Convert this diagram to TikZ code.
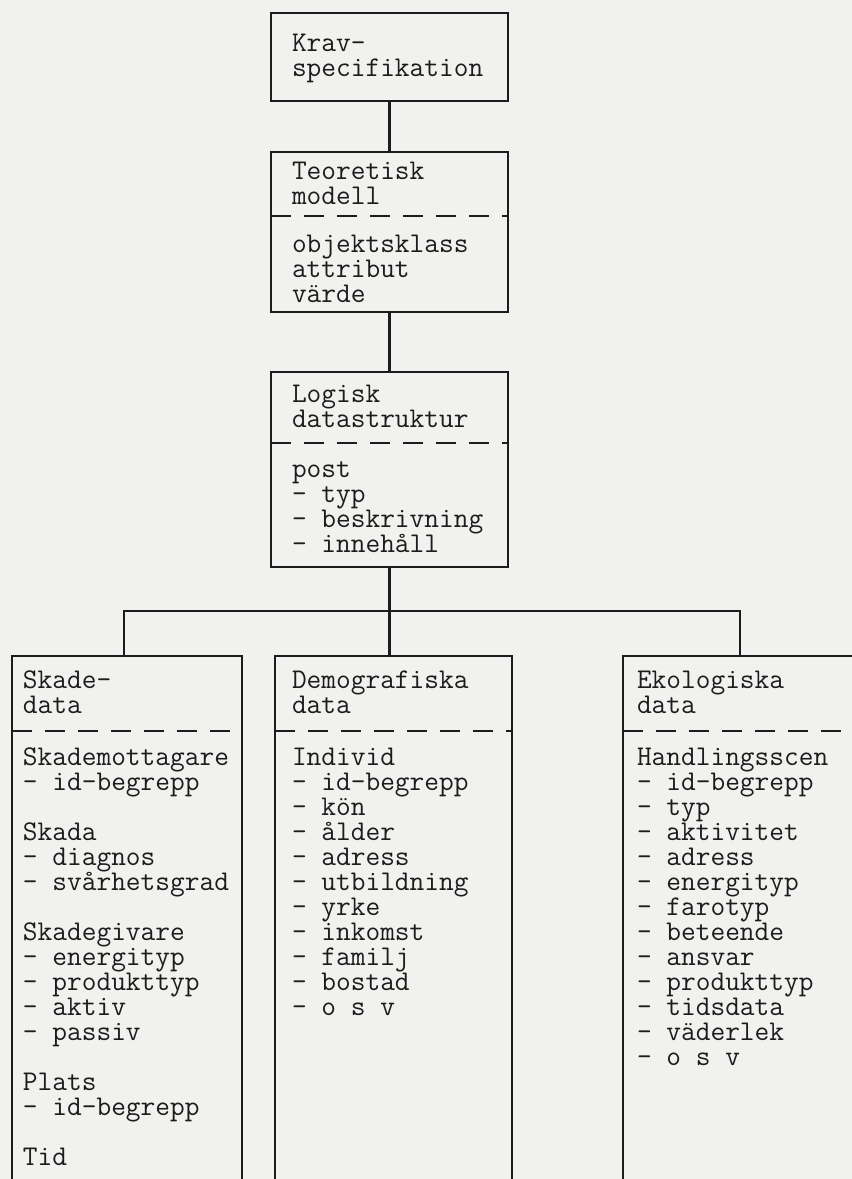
\documentclass[tikz,border=0pt]{standalone}
\usepackage{fontspec}
\definecolor{paper}{RGB}{241,241,239}
\definecolor{ink}{RGB}{28,28,28}
% typewritten block: fixed 25pt line pitch, baseline = first line
\newcommand\typed[1]{\vtop{\baselineskip=25pt\lineskiplimit=-100pt\lineskip=0pt\halign{##\hfil\cr#1\crcr}}}
\tikzset{
  box/.style={draw=ink, line width=2.2pt, rectangle, inner sep=0pt, outer sep=0pt, anchor=north west},
  openbox/.style={rectangle, inner sep=0pt, outer sep=0pt, anchor=north west},
  txt/.style={anchor=base west, inner sep=0pt, outer sep=0pt, text=ink,
    font=\ttfamily\fontsize{28.57}{25}\selectfont\addfontfeature{FakeBold=1.4}},
  wire/.style={draw=ink, line width=2.2pt},
  sep/.style={draw=ink, line width=2.2pt, dash pattern=on 20pt off 13pt},
}
\begin{document}
\begin{tikzpicture}[x=1pt,y=-1pt]
\useasboundingbox (0,0) rectangle (852,1179);
\fill[paper] (0,0) rectangle (852,1179);

% upper chain
\node[box, minimum width=237pt, minimum height=88pt]  (krav) at (271,13) {};
\node[box, minimum width=237pt, minimum height=160pt] (teo)  at (271,152) {};
\node[box, minimum width=237pt, minimum height=195pt] (logi) at (271,372) {};

\node[txt] (kravt) at (292,51) {\typed{Krav-\cr specifikation}};
\node[txt] (teot)  at (292,179) {\typed{Teoretisk\cr modell}};
\node[txt] (teob)  at (292,252) {\typed{objektsklass\cr attribut\cr värde}};
\node[txt] (logit) at (292,402) {\typed{Logisk\cr datastruktur}};
\node[txt] (logib) at (292,477) {\typed{post\cr - typ\cr - beskrivning\cr - innehåll}};

\draw[sep] (teo.west |- 0,216) -- (teo.east |- 0,216);
\draw[sep] (logi.west |- 0,443) -- (logi.east |- 0,443);

\draw[wire] (krav.south) -- (teo.north);
\draw[wire] (teo.south) -- (logi.north);

% lower row, boxes open at the bottom
\node[openbox, minimum width=230pt, minimum height=540pt] (skade) at (12,656) {};
\node[openbox, minimum width=237pt, minimum height=540pt] (demo)  at (275,656) {};
\node[openbox, minimum width=236pt, minimum height=540pt] (eko)   at (623,656) {};

\foreach \b in {skade,demo,eko}{
  \draw[wire] (\b.south west) -- (\b.north west) -- (\b.north east) -- (\b.south east);
  \draw[sep] (\b.west |- 0,731) -- (\b.east |- 0,731);
}

\node[txt] (skadet) at (23,688) {\typed{Skade-\cr data}};
\node[txt] (skadeb) at (23,765) {\typed{Skademottagare\cr - id-begrepp\cr\cr Skada\cr - diagnos\cr - svårhetsgrad\cr\cr Skadegivare\cr - energityp\cr - produkttyp\cr - aktiv\cr - passiv\cr\cr Plats\cr - id-begrepp\cr\cr Tid}};
\node[txt] (demot) at (292,688) {\typed{Demografiska\cr data}};
\node[txt] (demob) at (292,765) {\typed{Individ\cr - id-begrepp\cr - kön\cr - ålder\cr - adress\cr - utbildning\cr - yrke\cr - inkomst\cr - familj\cr - bostad\cr - o s v}};
\node[txt] (ekot) at (637,688) {\typed{Ekologiska\cr data}};
\node[txt] (ekob) at (637,765) {\typed{Handlingsscen\cr - id-begrepp\cr - typ\cr - aktivitet\cr - adress\cr - energityp\cr - farotyp\cr - beteende\cr - ansvar\cr - produkttyp\cr - tidsdata\cr - väderlek\cr - o s v}};

% branching connector
\coordinate (fork) at (logi.south |- 0,611);
\coordinate (fl) at (124,611);
\coordinate (fr) at (740,611);
\draw[wire] (logi.south) -- (fork);
\draw[wire] (fl |- skade.north) -- (fl) -- (fr) -- (fr |- eko.north);
\draw[wire] (fork) -- (fork |- demo.north);
\end{tikzpicture}
\end{document}
